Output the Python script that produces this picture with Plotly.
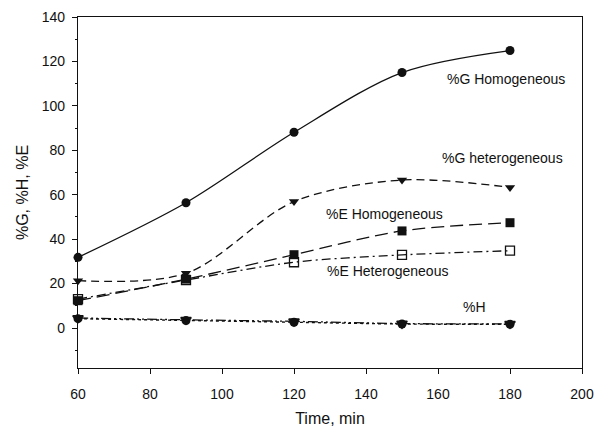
import plotly.graph_objects as go

time_min = [60, 90, 120, 150, 180]
g_homogeneous = [31.8, 56.4, 88.1, 115.0, 124.9]
g_heterogeneous = [21.3, 24.6, 56.9, 66.6, 63.3]
e_homogeneous = [12.3, 22.0, 33.0, 43.7, 47.4]
e_heterogeneous = [13.0, 21.6, 29.6, 32.9, 34.8]
h_homogeneous = [4.2, 3.4, 2.6, 1.8, 1.7]
h_heterogeneous = [4.5, 3.7, 3.0, 2.0, 1.9]

labels = ["%G Homogeneous", "%G heterogeneous", "%E Homogeneous", "%E Heterogeneous", "%H"]
label_x = [179, 178, 145, 146, 170]
label_y = [112, 76.5, 51.5, 25.7, 9.5]

FONT = "Liberation Sans, Arial, sans-serif"
BLACK = "#111111"

fig = go.Figure()

def add(y, symbol, dash, lw=1.3, msize=9, color=BLACK, mline=None):
    marker = dict(symbol=symbol, size=msize, color=color)
    if mline:
        marker["line"] = mline
    fig.add_trace(go.Scatter(
        x=time_min, y=y, mode="lines+markers",
        line=dict(color=BLACK, width=lw, dash=dash, shape="spline", smoothing=0.9),
        marker=marker, showlegend=False, cliponaxis=False))

add(h_homogeneous, "circle", "dot", lw=1.4)
add(h_heterogeneous, "triangle-down-open", "10px,3px,2px,3px,2px,3px", msize=9, color=BLACK, mline=dict(width=1.6, color=BLACK))
add(e_heterogeneous, "square-open", "9px,4px,2px,4px", msize=9, mline=dict(width=1.3, color=BLACK))
add(e_homogeneous, "square", "13px,6px")
add(g_heterogeneous, "triangle-down", "8px,5px", msize=9)
add(g_homogeneous, "circle", "solid", msize=9)

for t, x, y in zip(labels, label_x, label_y):
    fig.add_annotation(x=x, y=y, text=t, showarrow=False,
                       font=dict(family=FONT, size=14, color=BLACK))

fig.update_layout(
    width=595, height=427,
    margin=dict(l=78, r=13, t=17, b=59),
    paper_bgcolor="white", plot_bgcolor="white",
    font=dict(family=FONT, size=13, color=BLACK),
)
fig.update_xaxes(
    range=[60, 200], tick0=60, dtick=20, automargin=False,
    showline=True, linecolor=BLACK, linewidth=1.3, mirror=True,
    ticks="outside", ticklen=5, tickcolor=BLACK, tickwidth=1,
    ticklabelstandoff=8,
    showgrid=False, zeroline=False,
    title=dict(text="Time, min", font=dict(family=FONT, size=16), standoff=17),
    tickfont=dict(family=FONT, size=14),
)
fig.update_yaxes(
    range=[-18, 140], tick0=0, dtick=20, automargin=False,
    showline=True, linecolor=BLACK, linewidth=1.3, mirror=True,
    ticks="outside", ticklen=5, tickcolor=BLACK, tickwidth=1,
    ticklabelstandoff=4,
    minor=dict(ticks="outside", ticklen=2, dtick=10, tick0=0, tickcolor=BLACK),
    showgrid=False, zeroline=False,
    title=dict(text="%G, %H, %E", font=dict(family=FONT, size=16), standoff=9),
    tickfont=dict(family=FONT, size=14),
)

fig.write_html("out.html")
